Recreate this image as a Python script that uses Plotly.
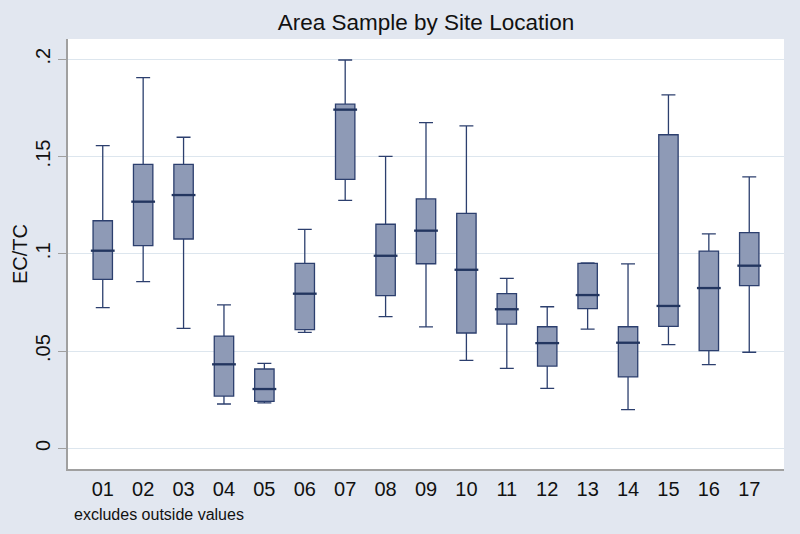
import plotly.graph_objects as go

sites = ["01", "02", "03", "04", "05", "06", "07", "08", "09",
         "10", "11", "12", "13", "14", "15", "16", "17"]
lower = [0.0723, 0.0857, 0.0617, 0.0228, 0.0234, 0.0596, 0.1275, 0.0677, 0.0624,
         0.0452, 0.0411, 0.0308, 0.0613, 0.0199, 0.0533, 0.0430, 0.0494]
q1 = [0.0869, 0.1042, 0.1076, 0.0269, 0.0242, 0.0610, 0.1383, 0.0785, 0.0949,
      0.0593, 0.0639, 0.0423, 0.0718, 0.0367, 0.0627, 0.0502, 0.0836]
median = [0.1016, 0.1268, 0.1302, 0.0432, 0.0305, 0.0795, 0.1741, 0.0990, 0.1119,
          0.0918, 0.0715, 0.0541, 0.0788, 0.0543, 0.0732, 0.0824, 0.0939]
q3 = [0.1170, 0.1460, 0.1460, 0.0577, 0.0408, 0.0951, 0.1769, 0.1152, 0.1282,
      0.1208, 0.0795, 0.0625, 0.0951, 0.0625, 0.1612, 0.1014, 0.1109]
upper = [0.1556, 0.1905, 0.1599, 0.0738, 0.0437, 0.1126, 0.1996, 0.1501, 0.1674,
         0.1657, 0.0874, 0.0728, 0.0953, 0.0948, 0.1817, 0.1102, 0.1395]
y_ticks = [0, 0.05, 0.1, 0.15, 0.2]
y_ticktext = ["0", ".05", ".1", ".15", ".2"]

line_col = "#2C3F6E"
fill_col = "#8E9AB6"

fig = go.Figure()
fig.add_trace(go.Box(
    x=sites, q1=q1, median=median, q3=q3,
    lowerfence=lower, upperfence=upper,
    fillcolor=fill_col,
    line=dict(color=line_col, width=1.3),
    width=0.48, whiskerwidth=0.72,
    boxpoints=False, showlegend=False, hoverinfo="skip",
))
# thicker median bars, as in the reference
fig.add_trace(go.Scatter(
    x=sites, y=median, mode="markers",
    marker=dict(symbol="line-ew", size=17,
                line=dict(color="#22355F", width=2.3)),
    showlegend=False, hoverinfo="skip",
))

fig.update_layout(
    width=800, height=534,
    paper_bgcolor="#E2E7F0", plot_bgcolor="#FFFFFF",
    margin=dict(l=68, r=16, t=39, b=65),
    font=dict(family="Liberation Sans, Arial, sans-serif", color="#111111"),
    title=dict(text="Area Sample by Site Location", x=0.5325,
               xanchor="center", y=1 - 22 / 534, yanchor="middle",
               font=dict(size=22.5, color="#111111")),
    xaxis=dict(
        type="category", range=[-0.86, 16.86], automargin=False,
        showgrid=False, zeroline=False,
        showline=True, linecolor="#A0A0A0", linewidth=1.5,
        ticks="outside", ticklen=1, tickcolor="rgba(0,0,0,0)",
        tickfont=dict(size=20, color="#111111"),
    ),
    yaxis=dict(
        range=[-0.0106, 0.2104], automargin=False,
        tickvals=y_ticks, ticktext=y_ticktext, tickangle=-90,
        showgrid=True, gridcolor="#DDE6EE", gridwidth=1,
        zeroline=False,
        showline=True, linecolor="#A0A0A0", linewidth=1.5,
        ticks="outside", ticklen=8, tickcolor="#A0A0A0",
        tickfont=dict(size=20, color="#111111"),
    ),
    annotations=[
        dict(text="excludes outside values", xref="paper", yref="paper",
             x=(72 - 68) / 716, y=-(514 - 469) / 430, xanchor="left", yanchor="middle",
             showarrow=False, font=dict(size=16, color="#111111")),
        dict(text="EC/TC", xref="paper", yref="paper",
             x=(20 - 68) / 716, y=0.5, xanchor="center", yanchor="middle",
             textangle=-90, showarrow=False, font=dict(size=20, color="#111111")),
    ],
)

fig.write_html("out.html", config={"displayModeBar": False},
               post_script="document.body.style.margin='0';document.body.style.overflow='hidden';")
